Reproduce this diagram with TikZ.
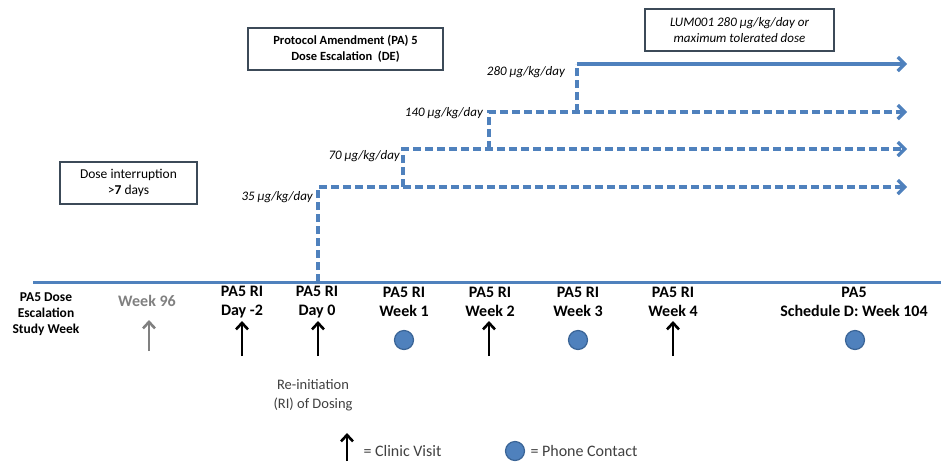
\documentclass[tikz,border=0pt]{standalone}
\usepackage{fontspec}
\setmainfont{Carlito}
\usepackage{xcolor}
\usepackage{tikz}
\usetikzlibrary{arrows.meta,positioning}

\definecolor{doseblue}{HTML}{4F81BD}
\definecolor{dotedge}{HTML}{3A6496}
\definecolor{boxline}{HTML}{3C4A58}
\definecolor{weekgray}{HTML}{808080}
\definecolor{notegray}{HTML}{404040}

\begin{document}
\begin{tikzpicture}[x=1pt,y=-1pt,
    tlabel/.style={align=center,font=\fontsize{16}{19}\selectfont\bfseries},
    infobox/.style={draw=boxline,line width=1.2pt,align=center,inner sep=0pt},
    doselbl/.style={anchor=east,inner sep=0pt,font=\fontsize{13}{15}\selectfont\itshape},
    dosestep/.style={doseblue,line width=3.2pt,dash pattern=on 8pt off 4pt},
    dosesolid/.style={doseblue,line width=3.2pt},
    tiparrow/.style={-{Straight Barb[length=7pt,width=14pt]}},
    visit/.style={-{Straight Barb[length=6.5pt,width=12pt]},line width=2.6pt},
    phone/.style={circle,fill=doseblue,draw=dotedge,line width=1.2pt,minimum size=19pt,inner sep=0pt}]
    \useasboundingbox (0,0) rectangle (943,475);

    % Boxes
    \node[infobox,minimum width=195pt,minimum height=42pt,font=\fontsize{12.5}{15.5}\selectfont\bfseries]
        (pabox) at (345.5,49) {Protocol Amendment (PA) 5\\Dose Escalation\ \ (DE)};
    \node[infobox,minimum width=137pt,minimum height=42pt,font=\fontsize{13.5}{16}\selectfont]
        (stopbox) at (128.5,183) {Dose interruption\\>\textbf{7} days};
    \node[infobox,minimum width=189pt,minimum height=42pt,font=\fontsize{13}{16}\selectfont\itshape]
        (lumbox) at (739.5,30) {LUM001 280 μg/kg/day or\\maximum tolerated dose};

    % Dose steps
    \coordinate (t0) at (318,282);
    \coordinate (c35) at (318,187);   \coordinate (e35) at (907,187);
    \coordinate (c70) at (403,149);   \coordinate (v70) at (403,187);   \coordinate (e70) at (907,149);
    \coordinate (c140) at (489,112);  \coordinate (v140) at (489,149);  \coordinate (e140) at (907,112);
    \coordinate (c280) at (577,64);   \coordinate (v280) at (577,112);  \coordinate (e280) at (907,64);
    \draw[dosestep,tiparrow] (t0) -- (c35) -- (e35);
    \draw[dosestep,tiparrow] (v70) -- (c70) -- (e70);
    \draw[dosestep,tiparrow] (v140) -- (c140) -- (e140);
    \draw[dosestep] (v280) -- (c280);
    \draw[dosesolid,tiparrow] (c280) -- (e280);
    \node[doselbl] (l35) at (313,197) {35 μg/kg/day};
    \node[doselbl] (l70) at (400,156) {70 μg/kg/day};
    \node[doselbl] (l140) at (483,113) {140 μg/kg/day};
    \node[doselbl] (l280) at (565,72) {280 μg/kg/day};

    % Timeline
    \coordinate (tstart) at (33,282);
    \coordinate (tend) at (941,282);
    \draw[doseblue,line width=3pt] (tstart) -- (tend);

    % Weeks
    \node[align=center,font=\fontsize{13.5}{16}\selectfont\bfseries] (studywk) at (46,314) {PA5 Dose\\Escalation\\Study Week};
    \node[tlabel,text=weekgray] (wk96) at (147,301) {Week 96};
    \node[tlabel] (dm2) at (242,302) {PA5 RI\\Day -2};
    \node[tlabel] (d0) at (317,302) {PA5 RI\\Day 0};
    \node[tlabel] (wk1) at (404,302) {PA5 RI\\Week 1};
    \node[tlabel] (wk2) at (490,302) {PA5 RI\\Week 2};
    \node[tlabel] (wk3) at (578,302) {PA5 RI\\Week 3};
    \node[tlabel] (wk4) at (673,302) {PA5 RI\\Week 4};
    \node[tlabel] (wk104) at (854,302) {PA5\\Schedule D: Week 104};

    % Visits
    \coordinate (a96) at (149,351);
    \coordinate (adm2) at (242,356);
    \coordinate (ad0) at (318,356);
    \coordinate (awk2) at (489,356);
    \coordinate (awk4) at (673,356);
    \draw[visit,weekgray] (a96) -- (149,320);
    \draw[visit] (adm2) -- (242,321);
    \draw[visit] (ad0) -- (318,321);
    \draw[visit] (awk2) -- (489,321);
    \draw[visit] (awk4) -- (673,321);
    \node[phone] (p1) at (404,340) {};
    \node[phone] (p3) at (578,340) {};
    \node[phone] (p104) at (855,340) {};

    % Annotation
    \node[align=center,text=notegray,font=\fontsize{14.5}{19}\selectfont] (reinit) at (313,395) {Re-initiation\\(RI) of Dosing};

    % Legend
    \coordinate (lgvisit) at (347,461);
    \draw[visit] (lgvisit) -- (347,433);
    \node[anchor=west,text=notegray,font=\fontsize{16}{18}\selectfont] (lgvtext) at (360,451) {= Clinic Visit};
    \node[phone] (lgphone) at (515,451) {};
    \node[anchor=west,text=notegray,font=\fontsize{16}{18}\selectfont] (lgptext) at (527,451) {= Phone Contact};
\end{tikzpicture}
\end{document}
